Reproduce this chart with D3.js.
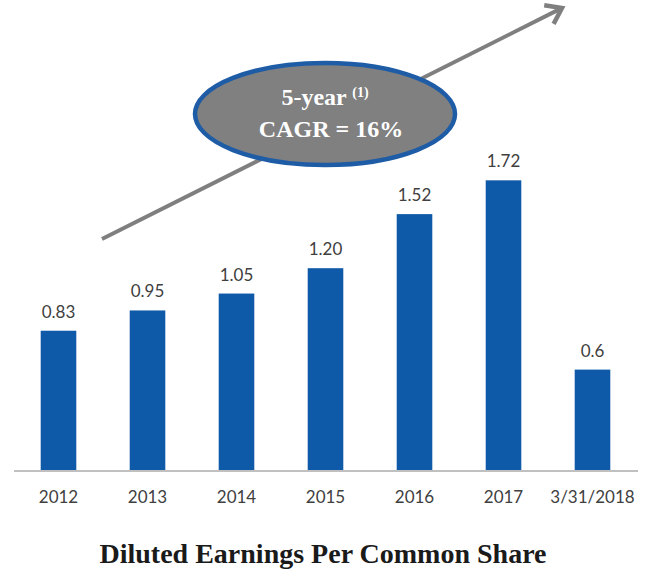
<!DOCTYPE html>
<html>
<head>
<meta charset="utf-8">
<script src="https://cdn.jsdelivr.net/npm/d3@7"></script>
<style>
  body { margin: 0; background: #fff; }
  svg { display: block; }
</style>
</head>
<body>
<div id="chart"></div>
<script>
// data
var categories = ["2012", "2013", "2014", "2015", "2016", "2017", "3/31/2018"];
var eps = [0.83, 0.95, 1.05, 1.20, 1.52, 1.72, 0.6];
var valueLabels = ["0.83", "0.95", "1.05", "1.20", "1.52", "1.72", "0.6"];
var title = "Diluted Earnings Per Common Share";
var bubbleLine1 = "5-year";
var bubbleSup = "(1)";
var bubbleLine2 = "CAGR = 16%";

var width = 647, height = 569;
var baseY = 471;

var svg = d3.select("#chart").append("svg")
	.attr("width", width)
	.attr("height", height);

var x = d3.scaleBand()
	.domain(categories)
	.range([14, 637])
	.paddingInner(0.6)
	.paddingOuter(0.3);

var y = d3.scaleLinear()
	.domain([0, 2])
	.range([baseY, baseY - 338]);

// growth arrow (behind the bubble)
var arrowStart = [102, 239], arrowEnd = [562, 8];
var ang = Math.atan2(arrowEnd[1] - arrowStart[1], arrowEnd[0] - arrowStart[0]);
var wing = 18, spread = 0.62;
svg.append("line")
	.attr("x1", arrowStart[0]).attr("y1", arrowStart[1])
	.attr("x2", arrowEnd[0] - 2 * Math.cos(ang)).attr("y2", arrowEnd[1] - 2 * Math.sin(ang))
	.attr("stroke", "#7f7f7f")
	.attr("stroke-width", 4);
svg.append("path")
	.attr("d", "M" + (arrowEnd[0] - wing * Math.cos(ang - spread)) + "," + (arrowEnd[1] - wing * Math.sin(ang - spread)) +
		"L" + arrowEnd[0] + "," + arrowEnd[1] +
		"L" + (arrowEnd[0] - wing * Math.cos(ang + spread)) + "," + (arrowEnd[1] - wing * Math.sin(ang + spread)))
	.attr("fill", "none")
	.attr("stroke", "#7f7f7f")
	.attr("stroke-width", 4.5)
	.attr("stroke-linejoin", "miter");

// CAGR bubble
svg.append("ellipse")
	.attr("cx", 325).attr("cy", 114)
	.attr("rx", 130).attr("ry", 51)
	.attr("fill", "#808080")
	.attr("stroke", "#1f5ca6")
	.attr("stroke-width", 4.5);

var t1 = svg.append("text")
	.attr("x", 325).attr("y", 105)
	.attr("text-anchor", "middle")
	.attr("font-family", "'Liberation Serif', 'Times New Roman', serif")
	.attr("font-weight", "bold")
	.attr("font-size", 24)
	.attr("fill", "#fff");
t1.append("tspan").text(bubbleLine1 + " ");
t1.append("tspan").attr("font-size", 14).attr("dy", -8).text(bubbleSup);

svg.append("text")
	.attr("x", 331).attr("y", 137)
	.attr("text-anchor", "middle")
	.attr("font-family", "'Liberation Serif', 'Times New Roman', serif")
	.attr("font-weight", "bold")
	.attr("font-size", 24)
	.attr("fill", "#fff")
	.text(bubbleLine2);

// bars
var data = categories.map(function(c, i) { return { cat: c, value: eps[i], label: valueLabels[i] }; });

svg.selectAll(".bar")
	.data(data)
	.enter().append("rect")
	.attr("class", "bar")
	.attr("x", function(d) { return x(d.cat); })
	.attr("y", function(d) { return y(d.value); })
	.attr("width", x.bandwidth())
	.attr("height", function(d) { return y(0) - y(d.value); })
	.attr("fill", "#0f5aa8");

svg.selectAll(".val")
	.data(data)
	.enter().append("text")
	.attr("class", "val")
	.attr("x", function(d) { return x(d.cat) + x.bandwidth() / 2; })
	.attr("y", function(d) { return y(d.value) - 13; })
	.attr("text-anchor", "middle")
	.attr("font-family", "Lato, 'Open Sans', sans-serif")
	.attr("font-size", 17)
	.attr("fill", "#404040")
	.text(function(d) { return d.label; });

// baseline + category axis
var xAxis = svg.append("g")
	.attr("transform", "translate(0," + baseY + ")")
	.call(d3.axisBottom(x).tickSize(0).tickPadding(20));
xAxis.select(".domain")
	.attr("d", "M14,0H638")
	.attr("stroke", "#c0c0c0")
	.attr("stroke-width", 2);
xAxis.selectAll("text")
	.attr("font-family", "Lato, 'Open Sans', sans-serif")
	.attr("font-size", 17)
	.attr("fill", "#404040");

// title
svg.append("text")
	.attr("x", 323).attr("y", 563)
	.attr("text-anchor", "middle")
	.attr("font-family", "'Liberation Serif', 'Times New Roman', serif")
	.attr("font-weight", "bold")
	.attr("font-size", 28)
	.attr("fill", "#1a1a1a")
	.text(title);
</script>
</body>
</html>
